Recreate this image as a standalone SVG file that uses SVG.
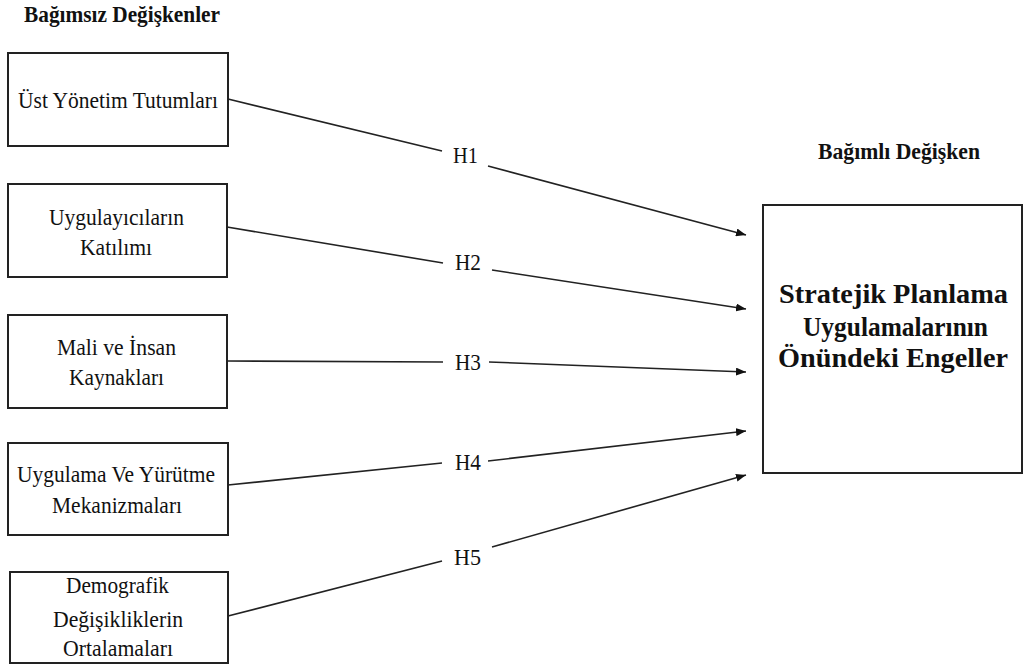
<svg xmlns="http://www.w3.org/2000/svg" width="1025" height="668" viewBox="0 0 1025 668">
<style>
.box{fill:#fff;stroke:#222;stroke-width:2}
.t{font-family:'Liberation Serif','Times New Roman','DejaVu Serif',serif;font-size:24px;fill:#111}
.b{font-family:'Liberation Serif','Times New Roman','DejaVu Serif',serif;font-weight:bold;fill:#111}
.c{fill:none;stroke:#222;stroke-width:1.6}
</style>
<defs>
<marker id="arr" viewBox="0 0 10 8" refX="10" refY="4" markerWidth="10" markerHeight="8" markerUnits="userSpaceOnUse" orient="auto">
<path d="M0,0 L10,4 L0,8 z" fill="#111"/>
</marker>
</defs>
<rect width="1025" height="668" fill="#fff"/>
<text class="b" x="24" y="22" font-size="24" textLength="196" lengthAdjust="spacingAndGlyphs">Bağımsız Değişkenler</text>
<text class="b" x="818" y="159" font-size="24" textLength="162" lengthAdjust="spacingAndGlyphs">Bağımlı Değişken</text>
<g id="n1">
<rect class="box" x="8" y="53" width="220" height="93"/>
<text class="t" x="18" y="108" textLength="200" lengthAdjust="spacingAndGlyphs">Üst Yönetim Tutumları</text>
</g>
<g id="n2">
<rect class="box" x="8" y="184" width="219" height="93"/>
<text class="t" x="49" y="225" textLength="135" lengthAdjust="spacingAndGlyphs">Uygulayıcıların</text>
<text class="t" x="80" y="255" textLength="72" lengthAdjust="spacingAndGlyphs">Katılımı</text>
</g>
<g id="n3">
<rect class="box" x="8" y="315" width="219" height="93"/>
<text class="t" x="57" y="355" textLength="119" lengthAdjust="spacingAndGlyphs">Mali ve İnsan</text>
<text class="t" x="69" y="385" textLength="95" lengthAdjust="spacingAndGlyphs">Kaynakları</text>
</g>
<g id="n4">
<rect class="box" x="8" y="443" width="220" height="92"/>
<text class="t" x="17" y="482" textLength="198" lengthAdjust="spacingAndGlyphs">Uygulama Ve Yürütme</text>
<text class="t" x="52" y="513" textLength="130" lengthAdjust="spacingAndGlyphs">Mekanizmaları</text>
</g>
<g id="n5">
<rect class="box" x="10" y="572" width="218" height="91"/>
<text class="t" x="66" y="593" textLength="103" lengthAdjust="spacingAndGlyphs">Demografik</text>
<text class="t" x="53" y="627" textLength="130" lengthAdjust="spacingAndGlyphs">Değişikliklerin</text>
<text class="t" x="63" y="656" textLength="110" lengthAdjust="spacingAndGlyphs">Ortalamaları</text>
</g>
<g id="n6">
<rect class="box" x="763" y="205" width="259" height="268"/>
<text class="b" x="779" y="303" font-size="28" textLength="229" lengthAdjust="spacingAndGlyphs">Stratejik Planlama</text>
<text class="b" x="803" y="336" font-size="28" textLength="185" lengthAdjust="spacingAndGlyphs">Uygulamalarının</text>
<text class="b" x="778" y="367" font-size="28" textLength="230" lengthAdjust="spacingAndGlyphs">Önündeki Engeller</text>
</g>
<g id="connectors">
<line class="c" x1="228" y1="99" x2="442" y2="151"/>
<line class="c" x1="488" y1="166" x2="746" y2="235" marker-end="url(#arr)"/>
<line class="c" x1="227" y1="227" x2="443" y2="263"/>
<line class="c" x1="492" y1="270" x2="746" y2="309" marker-end="url(#arr)"/>
<line class="c" x1="227" y1="361" x2="443" y2="362"/>
<line class="c" x1="489" y1="362" x2="746" y2="372" marker-end="url(#arr)"/>
<line class="c" x1="228" y1="485" x2="442" y2="463"/>
<line class="c" x1="488" y1="461" x2="746" y2="431" marker-end="url(#arr)"/>
<line class="c" x1="228" y1="616" x2="442" y2="561"/>
<line class="c" x1="492" y1="547" x2="746" y2="475" marker-end="url(#arr)"/>
<text class="t" x="453" y="163" textLength="25" lengthAdjust="spacingAndGlyphs">H1</text>
<text class="t" x="455" y="270" textLength="26" lengthAdjust="spacingAndGlyphs">H2</text>
<text class="t" x="455" y="370" textLength="26" lengthAdjust="spacingAndGlyphs">H3</text>
<text class="t" x="455" y="470" textLength="26" lengthAdjust="spacingAndGlyphs">H4</text>
<text class="t" x="454" y="565" textLength="27" lengthAdjust="spacingAndGlyphs">H5</text>
</g>
</svg>
